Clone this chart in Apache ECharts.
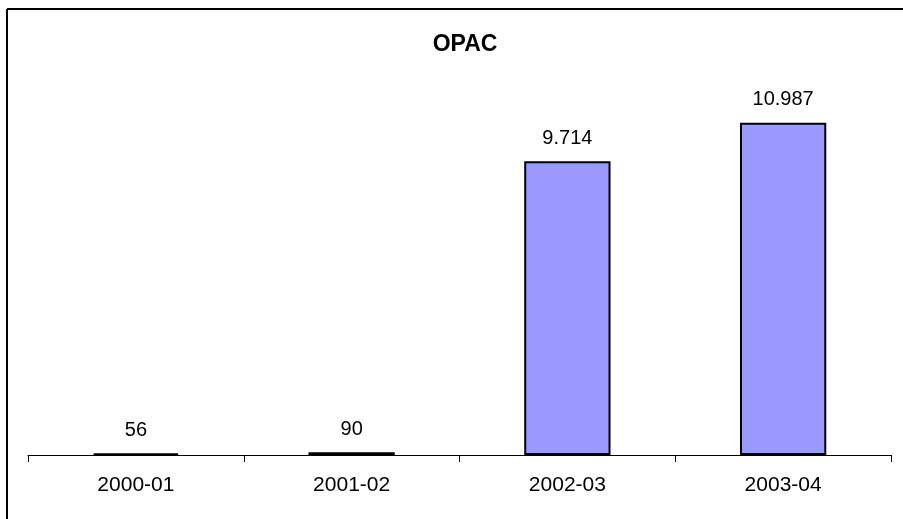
<!DOCTYPE html>
<html>
<head>
<meta charset="utf-8">
<script src="https://cdn.jsdelivr.net/npm/echarts@6/dist/echarts.min.js"></script>
<style>
  html, body { margin: 0; padding: 0; background: #fff; }
  #opac { width: 903px; height: 519px; }
</style>
</head>
<body>
<div id="opac"></div>
<script>
  const years = ["2000-01", "2001-02", "2002-03", "2003-04"];
  const hits = [56, 90, 9714, 10987];

  // thousands with a dot, like the original sheet
  function dotted(v) {
    return String(v).replace(/\B(?=(\d{3})+(?!\d))/g, ".");
  }

  let chart = echarts.init(document.getElementById("opac"));
  let option = {
    animation: false,
    backgroundColor: "#fff",
    textStyle: { fontFamily: "Liberation Sans, Arial, sans-serif" },
    title: {
      text: "OPAC",
      left: 460,
      top: 28,
      textAlign: "center",
      textStyle: {
        color: "#000",
        fontWeight: "bold",
        fontSize: 23,
        fontFamily: "Liberation Sans, Arial, sans-serif"
      }
    },
    grid: {
      left: 28,
      right: 12,
      top: 92,
      bottom: 64
    },
    xAxis: {
      type: "category",
      data: years,
      axisLine: { lineStyle: { color: "#000", width: 1 } },
      axisTick: { show: true, length: 7, lineStyle: { color: "#000" } },
      axisLabel: {
        color: "#000",
        fontSize: 21,
        margin: 20,
        fontFamily: "Liberation Sans, Arial, sans-serif"
      }
    },
    yAxis: {
      type: "value",
      min: 0,
      max: 12000,
      show: false
    },
    series: [
      {
        name: "OPAC",
        type: "bar",
        data: hits,
        barWidth: "40%",
        itemStyle: {
          color: "#9999ff",
          borderColor: "#000",
          borderWidth: 2
        },
        label: {
          show: true,
          position: "top",
          distance: 13,
          color: "#000",
          fontSize: 20,
          fontFamily: "Liberation Sans, Arial, sans-serif",
          formatter: function (p) {
            return dotted(p.value);
          }
        }
      }
    ],
    graphic: [
      {
        type: "line",
        shape: { x1: 7, y1: 9, x2: 903, y2: 9 },
        style: { stroke: "#000", lineWidth: 2 }
      },
      {
        type: "line",
        shape: { x1: 7, y1: 9, x2: 7, y2: 519 },
        style: { stroke: "#000", lineWidth: 2 }
      }
    ]
  };
  chart.setOption(option);
</script>
</body>
</html>
